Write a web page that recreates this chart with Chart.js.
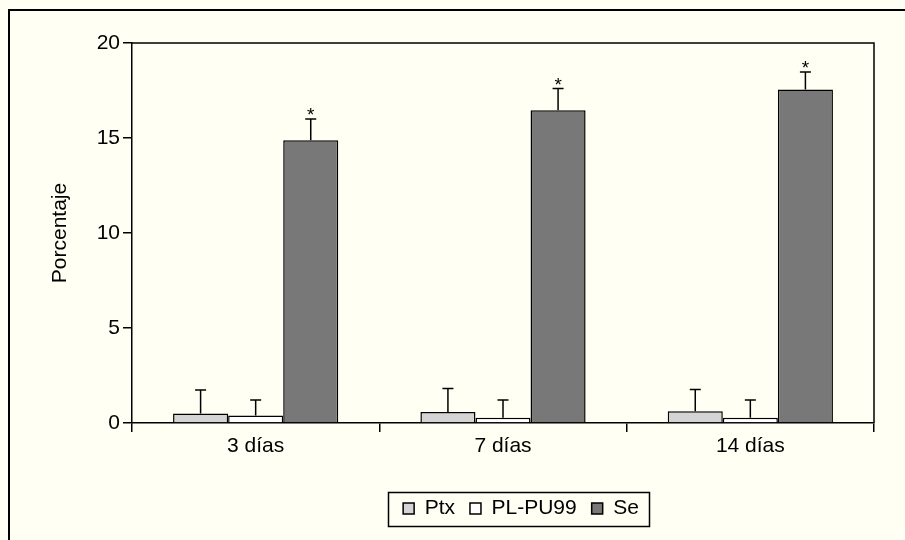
<!DOCTYPE html>
<html><head><meta charset="utf-8">
<script src="https://cdn.jsdelivr.net/npm/chart.js@4.4.0/dist/chart.umd.min.js"></script>
<style>html,body{margin:0;padding:0;background:#fffff3;} canvas{display:block}</style>
</head><body>
<canvas id="c" width="905" height="540" style="width:905px;height:540px"></canvas>
<script>
const categories = ['3 días', '7 días', '14 días'];
const seriesNames = ['Ptx', 'PL-PU99', 'Se'];
const ptxValues = [0.50, 0.58, 0.62];
const ptxErrors = [1.24, 1.23, 1.14];
const plValues = [0.39, 0.28, 0.28];
const plErrors = [0.82, 0.93, 0.93];
const seValues = [14.88, 16.46, 17.55];
const seErrors = [1.12, 1.14, 0.92];
const seSignificant = [true, true, true];
const yTicks = [0, 5, 10, 15, 20];
const yTitle = 'Porcentaje';

const BG = '#fffff3';
const FONT = "'Liberation Sans', Arial, Helvetica, sans-serif";
const FS = 21;
Chart.defaults.font.family = FONT;
Chart.defaults.font.size = FS;
Chart.defaults.color = '#000';

const bgPlugin = {
  id: 'bg',
  beforeDraw(chart) {
    const ctx = chart.ctx;
    ctx.save();
    ctx.fillStyle = BG;
    ctx.fillRect(0, 0, chart.width, chart.height);
    ctx.strokeStyle = '#000';
    ctx.lineWidth = 2;
    ctx.beginPath();
    ctx.moveTo(9, chart.height);
    ctx.lineTo(9, 10);
    ctx.lineTo(chart.width, 10);
    ctx.stroke();
    ctx.restore();
  }
};

const errorBarPlugin = {
  id: 'errorBars',
  afterDatasetsDraw(chart) {
    const ctx = chart.ctx, y = chart.scales.y;
    chart.data.datasets.forEach((ds, i) => {
      const meta = chart.getDatasetMeta(i);
      meta.data.forEach((bar, j) => {
        const v = ds.data[j], e = ds.errors[j];
        const top = y.getPixelForValue(v + e);
        ctx.save();
        ctx.strokeStyle = '#000';
        ctx.lineWidth = 1.5;
        ctx.beginPath();
        ctx.moveTo(bar.x, bar.y);
        ctx.lineTo(bar.x, top);
        ctx.moveTo(bar.x - 5.5, top);
        ctx.lineTo(bar.x + 5.5, top);
        ctx.stroke();
        if (ds.significant && ds.significant[j]) {
          ctx.fillStyle = '#000';
          ctx.font = '19px ' + FONT;
          ctx.textAlign = 'center';
          ctx.textBaseline = 'alphabetic';
          ctx.fillText('*', bar.x, top + 2);
        }
        ctx.restore();
      });
    });
  }
};

const framePlugin = {
  id: 'frames',
  afterLayout(chart) {
    const lg = chart.legend;
    if (lg) { lg.left += 18; lg.right += 18; }
  },
  afterDraw(chart) {
    const ctx = chart.ctx, a = chart.chartArea;
    ctx.save();
    ctx.strokeStyle = '#000';
    ctx.lineWidth = 1.5;
    ctx.beginPath();
    ctx.moveTo(a.left, a.top);
    ctx.lineTo(a.right, a.top);
    ctx.lineTo(a.right, a.bottom);
    ctx.stroke();
    const hb = chart.legend && chart.legend.legendHitBoxes;
    if (hb && hb.length) {
      let l = Infinity, r = -Infinity, t = Infinity, b = -Infinity;
      hb.forEach(h => { l = Math.min(l, h.left); r = Math.max(r, h.left + h.width); t = Math.min(t, h.top); b = Math.max(b, h.top + h.height); });
      ctx.lineWidth = 1.5;
      ctx.strokeRect(Math.round(l - 15) + 0.5, Math.round(t - 6.5) + 0.5, Math.round(r - l + 25), Math.round(b - t + 13));
    }
    ctx.restore();
  }
};

new Chart(document.getElementById('c'), {
  type: 'bar',
  data: {
    labels: categories,
    datasets: [
      { label: seriesNames[0], data: ptxValues, errors: ptxErrors, backgroundColor: '#d4d4d4', borderColor: '#000', borderWidth: 1.5 },
      { label: seriesNames[1], data: plValues, errors: plErrors, backgroundColor: '#ffffff', borderColor: '#000', borderWidth: 1.5 },
      { label: seriesNames[2], data: seValues, errors: seErrors, significant: seSignificant, backgroundColor: '#787878', borderColor: '#000', borderWidth: 1.5 }
    ]
  },
  options: {
    responsive: false,
    animation: false,
    devicePixelRatio: 1,
    categoryPercentage: 0.668,
    barPercentage: 1.0,
    layout: { padding: { left: 0, right: 31, top: 43, bottom: 11 } },
    plugins: {
      legend: {
        position: 'bottom',
        fullSize: false,
        labels: { boxWidth: 11, boxHeight: 11, padding: 15, font: { size: FS }, color: '#000' }
      },
      tooltip: { enabled: false }
    },
    scales: {
      x: {
        grid: { drawOnChartArea: false, drawTicks: true, tickLength: 9, color: '#000', lineWidth: 1.5, offset: true },
        border: { display: true, color: '#000', width: 1.5 },
        ticks: { padding: 2, font: { size: FS }, color: '#000' },
        afterFit(s) { s.height = 60; }
      },
      y: {
        min: 0, max: 20,
        afterBuildTicks(s) { s.ticks = yTicks.map(v => ({ value: v })); },
        grid: { drawOnChartArea: false, drawTicks: true, tickLength: 9, color: '#000', lineWidth: 1.5 },
        border: { display: true, color: '#000', width: 1.5 },
        ticks: { padding: 3, font: { size: FS }, color: '#000' },
        title: { display: true, text: yTitle, font: { size: FS }, color: '#000', padding: { top: 48, bottom: 0 } },
        afterFit(s) { s.width = 132; }
      }
    }
  },
  plugins: [bgPlugin, errorBarPlugin, framePlugin]
});
</script>
</body></html>
